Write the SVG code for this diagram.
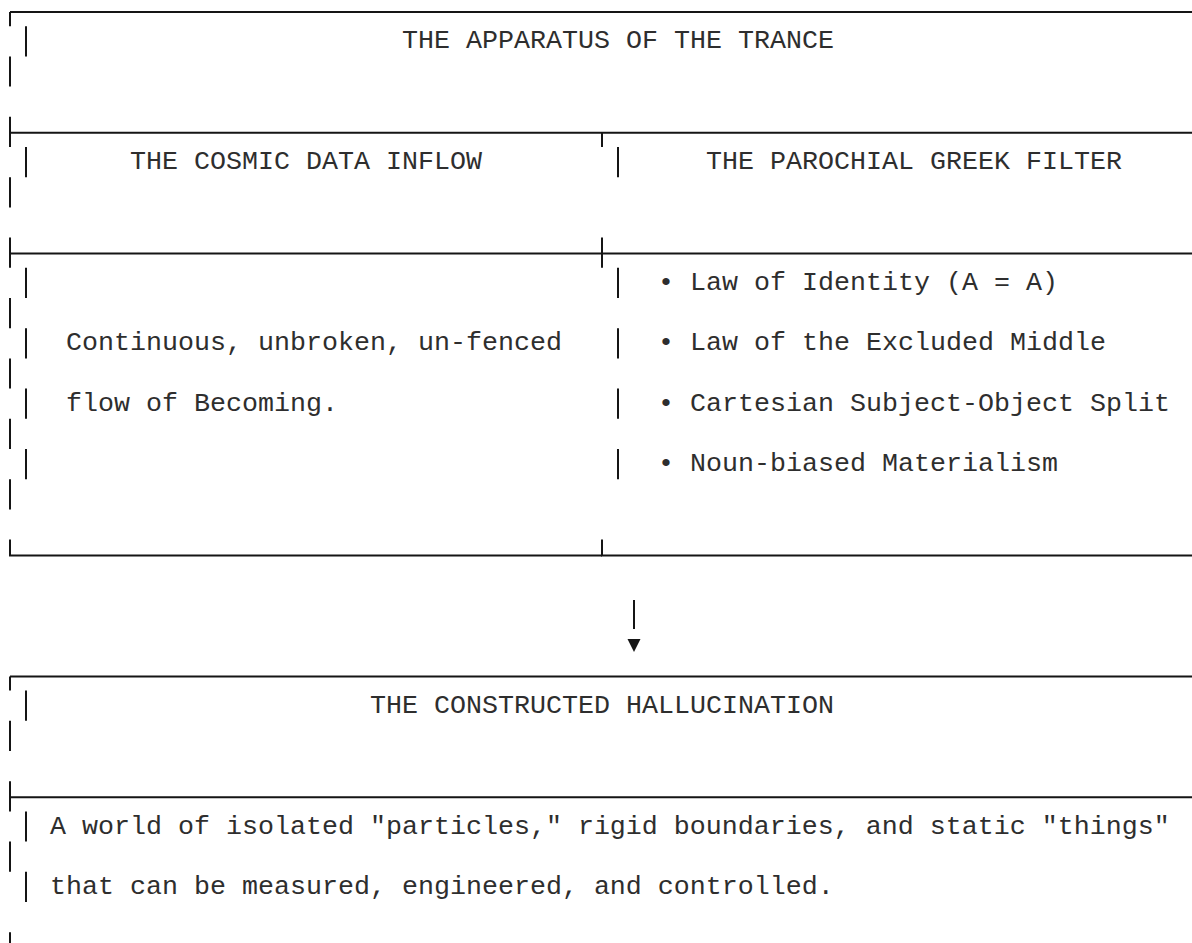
<svg xmlns="http://www.w3.org/2000/svg" width="1192" height="943" viewBox="0 0 1192 943">
<style>
.t{font-family:"Liberation Mono","Courier New",monospace;font-size:26.67px;fill:#2e2e2e}
.b{stroke:#151515;stroke-width:2;fill:none}
</style>
<rect width="1192" height="943" fill="#fff"/>
<g id="node-apparatus-title">
<path class="b" d="M10,12H1194M10,12V26.2M26,26.2V56.4M10,56.4V86.6"/>
<text class="t" x="402" y="48.4">THE APPARATUS OF THE TRANCE</text>
</g>
<g id="node-cosmic-inflow">
<path class="b" d="M10,116.8V147M10,132.8H602M26,147V177.2M10,177.2V207.4M10,237.6V267.8M10,253.6H602M26,267.8V298M10,298V328.2M26,328.2V358.4M10,358.4V388.6M26,388.6V418.8M10,418.8V449M26,449V479.2M10,479.2V509.4M10,539.6V555.6H602"/>
<text class="t" x="130" y="169.2">THE COSMIC DATA INFLOW</text>
<text class="t" x="66" y="350.4">Continuous, unbroken, un-fenced</text>
<text class="t" x="66" y="410.8">flow of Becoming.</text>
</g>
<g id="node-greek-filter">
<path class="b" d="M602,132.8H1194M602,132.8V147M618,147V177.2M602,237.6V267.8M602,253.6H1194M618,267.8V298M618,328.2V358.4M618,388.6V418.8M618,449V479.2M602,539.6V555.6H1194"/>
<text class="t" x="706" y="169.2">THE PAROCHIAL GREEK FILTER</text>
<text class="t" x="658" y="290">• Law of Identity (A = A)</text>
<text class="t" x="658" y="350.4">• Law of the Excluded Middle</text>
<text class="t" x="658" y="410.8">• Cartesian Subject-Object Split</text>
<text class="t" x="658" y="471.2">• Noun-biased Materialism</text>
</g>
<g id="connectors">
<path class="b" d="M634,600V629"/>
<polygon points="627.5,639 640.5,639 634,652" fill="#151515"/>
</g>
<g id="node-hallucination">
<path class="b" d="M10,676.4H1194M10,676.4V690.6M26,690.6V720.8M10,720.8V751M10,781.2V811.4M10,797.2H1194M26,811.4V841.6M10,841.6V871.8M26,871.8V902M10,932.2V943"/>
<text class="t" x="370" y="712.8">THE CONSTRUCTED HALLUCINATION</text>
<text class="t" x="50" y="833.6">A world of isolated "particles," rigid boundaries, and static "things"</text>
<text class="t" x="50" y="894">that can be measured, engineered, and controlled.</text>
</g>
</svg>
